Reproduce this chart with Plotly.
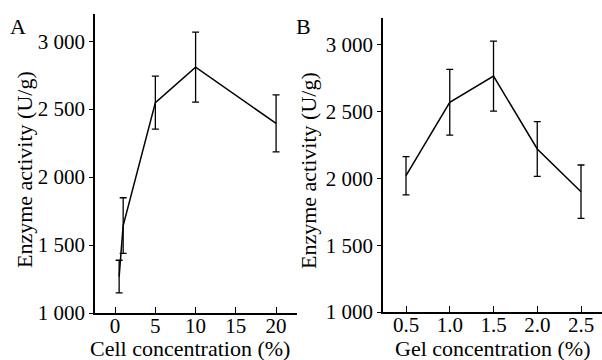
import plotly.graph_objects as go

# Panel A data
cell_conc = [0.5, 1, 5, 10, 20]
cell_activity = [1268, 1643, 2548, 2809, 2395]
cell_err = [120, 205, 195, 257, 210]

# Panel B data
gel_conc = [0.5, 1.0, 1.5, 2.0, 2.5]
gel_activity = [2020, 2569, 2765, 2220, 1900]
gel_err = [143, 246, 262, 205, 200]

y_tickvals = [1000, 1500, 2000, 2500, 3000]
y_ticktext = ["1 000", "1 500", "2 000", "2 500", "3 000"]
a_tickvals = [0, 5, 10, 15, 20]
b_tickvals = [0.5, 1.0, 1.5, 2.0, 2.5]
b_ticktext = ["0.5", "1.0", "1.5", "2.0", "2.5"]

FONT = "Liberation Serif, Times New Roman, serif"
W, H = 602, 360

fig = go.Figure()
err_style = dict(type="data", visible=True, color="black", thickness=1.3, width=3.5)

fig.add_trace(go.Scatter(
    x=cell_conc, y=cell_activity, mode="lines",
    line=dict(color="black", width=1.5),
    error_y=dict(array=cell_err, **err_style),
    xaxis="x", yaxis="y", showlegend=False, hoverinfo="skip"))
fig.add_trace(go.Scatter(
    x=gel_conc, y=gel_activity, mode="lines",
    line=dict(color="black", width=1.5),
    error_y=dict(array=gel_err, **err_style),
    xaxis="x2", yaxis="y2", showlegend=False, hoverinfo="skip"))

axis_common = dict(showgrid=False, zeroline=False, showline=True, linecolor="black",
                   linewidth=1.5, tickcolor="black", tickwidth=1.3,
                   tickfont=dict(family=FONT, size=21, color="black"), automargin=False)

fig.update_layout(
    width=W, height=H,
    margin=dict(l=0, r=0, t=0, b=0),
    plot_bgcolor="white", paper_bgcolor="white",
    xaxis=dict(domain=[95 / W, 297 / W], range=[-2.5, 22.6], tickvals=a_tickvals,
               ticks="inside", ticklen=6, ticklabelstandoff=-7, anchor="y", **axis_common),
    yaxis=dict(domain=[(H - 313) / H, (H - 14) / H], range=[1000, 3200],
               tickvals=y_tickvals, ticktext=y_ticktext,
               ticks="outside", ticklen=4, anchor="x", **axis_common),
    xaxis2=dict(domain=[383 / W, 1.0], range=[0.237, 2.74], tickvals=b_tickvals,
                ticktext=b_ticktext, ticks="inside", ticklen=6, ticklabelstandoff=-7,
                anchor="y2", **axis_common),
    yaxis2=dict(domain=[(H - 312) / H, (H - 18) / H], range=[1000, 3200],
                tickvals=y_tickvals, ticktext=y_ticktext,
                ticks="outside", ticklen=4, anchor="x2", **axis_common),
)

title_font = dict(family=FONT, size=22, color="black")
annotations = [
    dict(text="Cell concentration (%)", x=190 / W, y=(H - 348) / H, xref="paper", yref="paper",
         showarrow=False, xanchor="center", yanchor="middle", font=title_font),
    dict(text="Gel concentration (%)", x=492 / W, y=(H - 348) / H, xref="paper", yref="paper",
         showarrow=False, xanchor="center", yanchor="middle", font=title_font),
    dict(text="Enzyme activity (U/g)", x=24 / W, y=(H - 170) / H, xref="paper", yref="paper",
         showarrow=False, xanchor="center", yanchor="middle", textangle=-90, font=title_font),
    dict(text="Enzyme activity (U/g)", x=308 / W, y=(H - 171) / H, xref="paper", yref="paper",
         showarrow=False, xanchor="center", yanchor="middle", textangle=-90, font=title_font),
    dict(text="A", x=18 / W, y=(H - 27) / H, xref="paper", yref="paper",
         showarrow=False, xanchor="center", yanchor="middle", font=title_font),
    dict(text="B", x=303 / W, y=(H - 27) / H, xref="paper", yref="paper",
         showarrow=False, xanchor="center", yanchor="middle", font=title_font),
]
fig.update_layout(annotations=annotations)

fig.write_html("out.html", config={"displayModeBar": False},
               post_script="document.body.style.margin='0';document.body.style.overflow='hidden';")
